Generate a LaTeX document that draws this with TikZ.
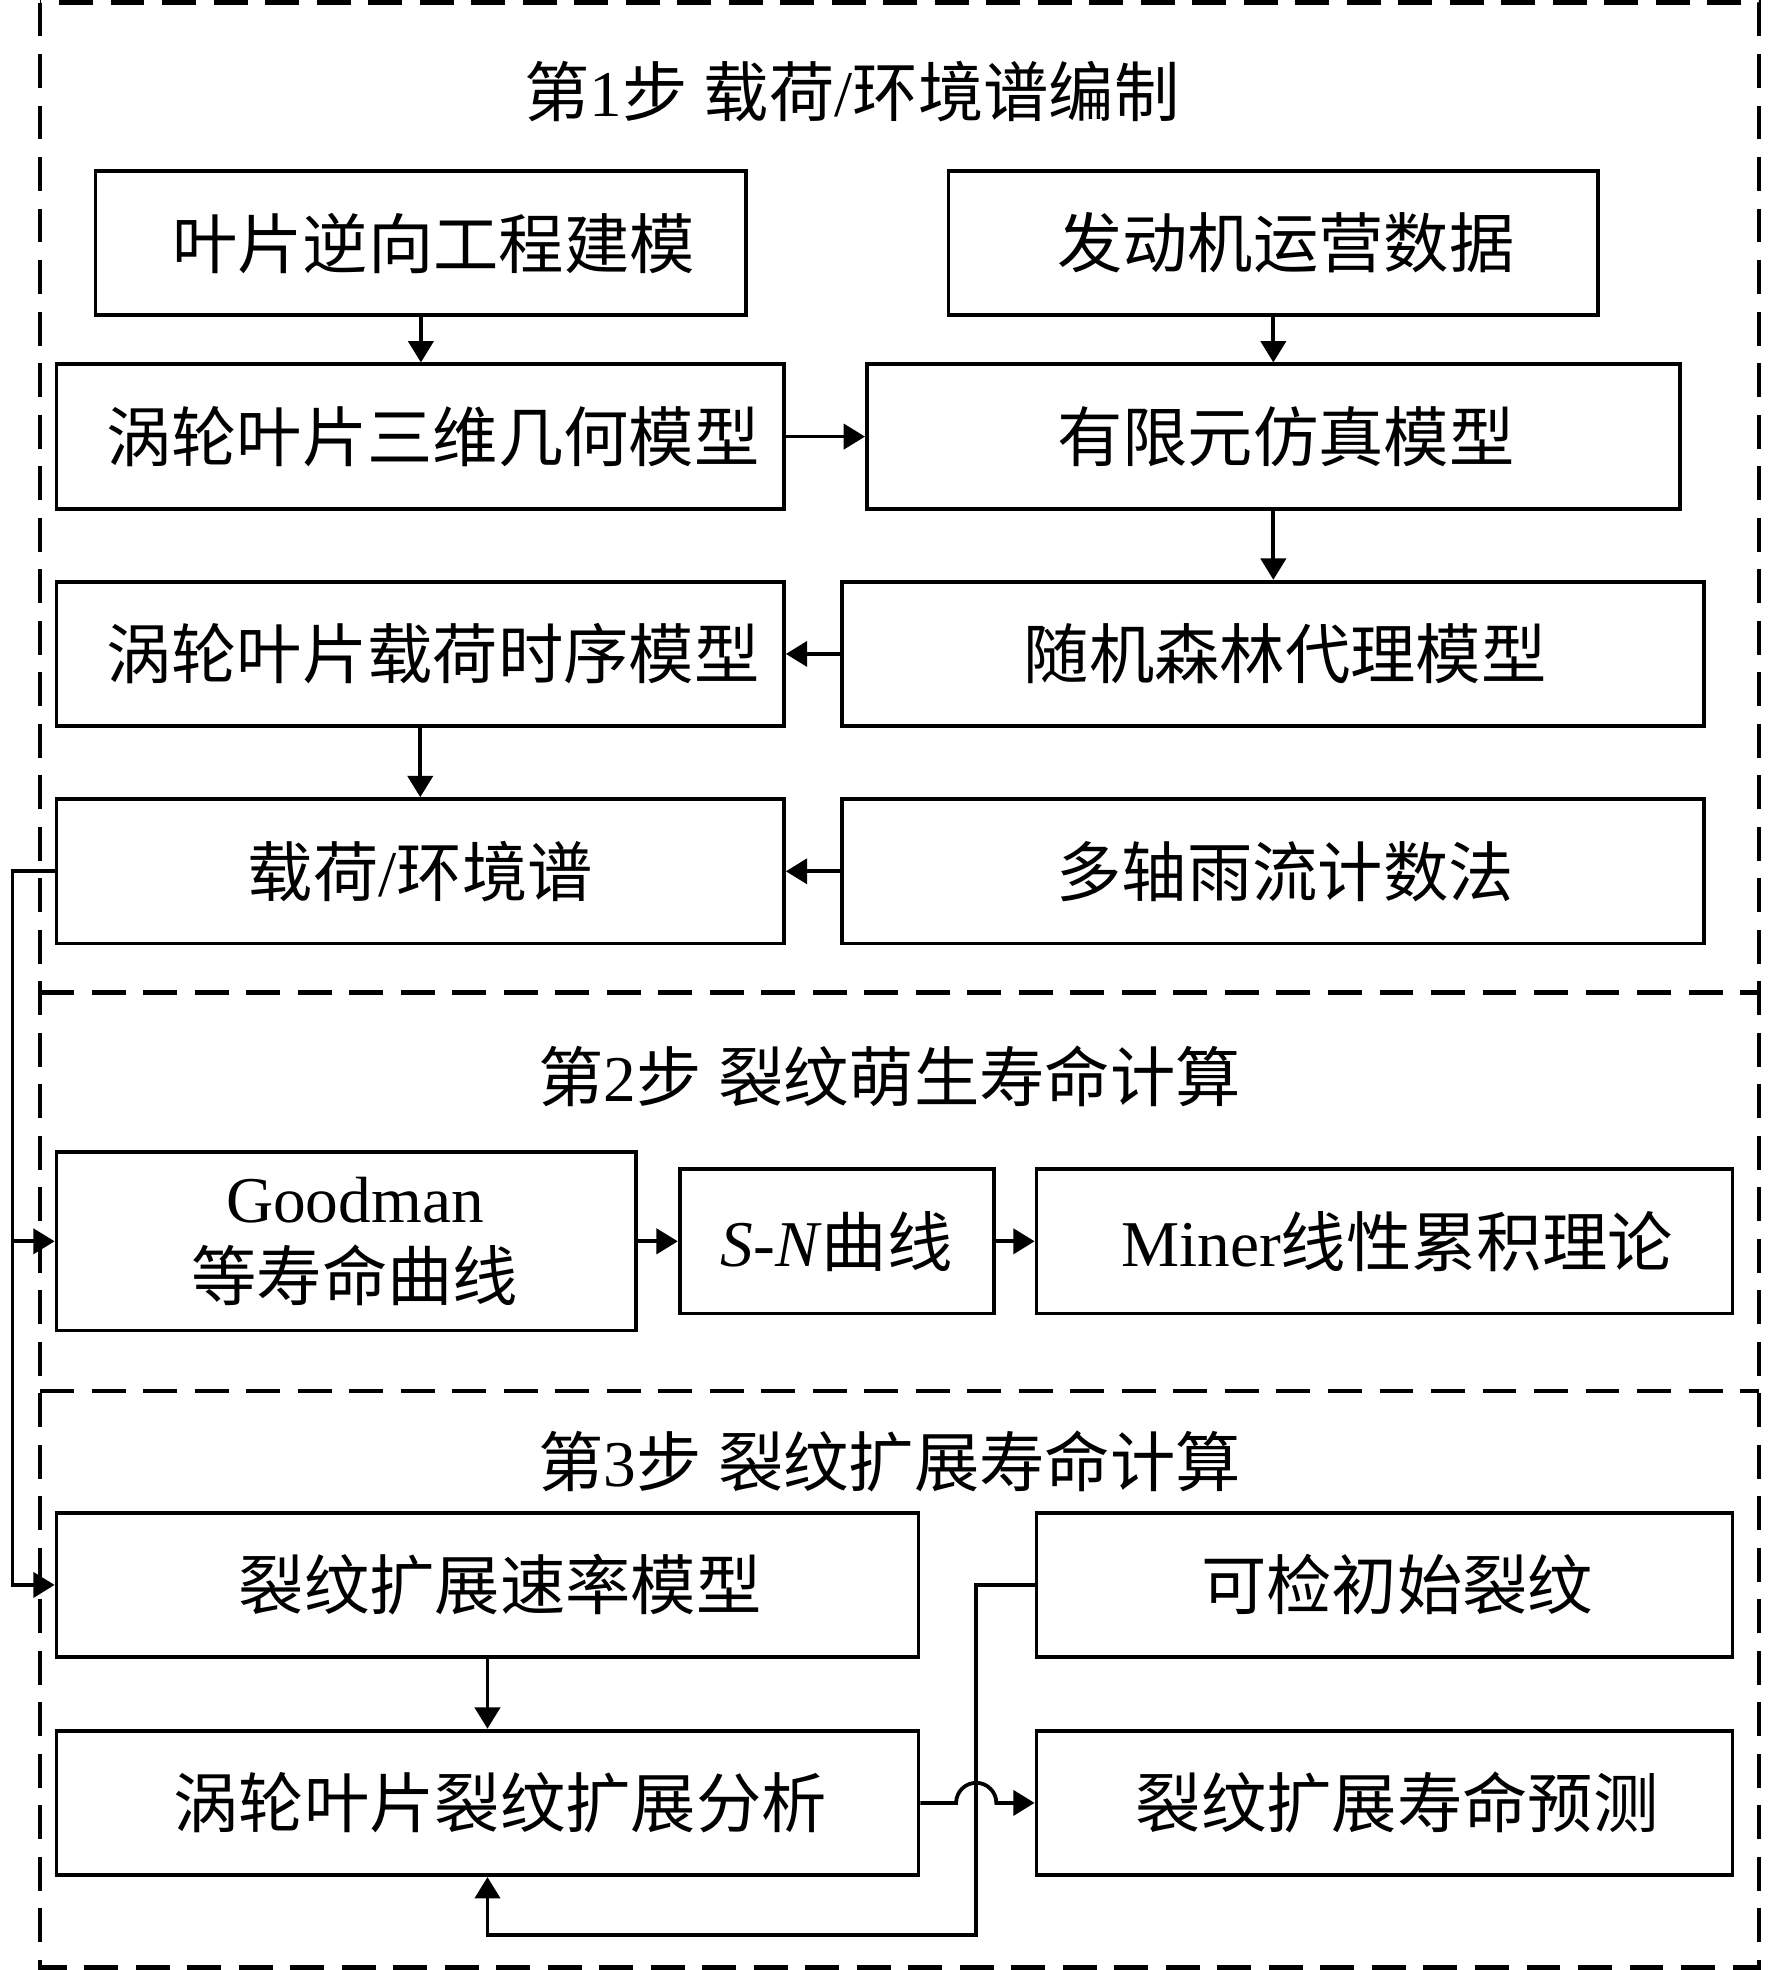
\documentclass[tikz,border=0pt]{standalone}
\usepackage{fontspec}
\setmainfont{Liberation Serif}
\newfontfamily\zh{Noto Sans CJK SC}
\usetikzlibrary{arrows.meta}
\tikzset{%
  plainbox/.style  = {shape=rectangle, draw, line width=1.5pt, inner sep=0pt,%
                      minimum height=57.5pt,%
                      font=\fontsize{26}{31}\selectfont},%
  block/.style     = {plainbox, execute at begin node=\hspace*{10pt}},%
  wide/.style      = {minimum width=289.5pt},%
  heading/.style   = {font=\fontsize{26}{31}\selectfont},%
  dashframe/.style = {line width=1.7pt, dash pattern=on 13.5pt off 7pt}%
}

\begin{document}
\begin{tikzpicture}[x=0.5pt,y=-0.5pt,
	arr/.style={line width=1.5pt,-{Triangle[length=8.5pt,width=10pt]}}]
	\useasboundingbox (0,0) rectangle (1410,1568);
	\draw [dashframe] (32,2) rectangle (1400,1566);
	\draw [dashframe] (32,790) -- (1400,790);
	\draw [dashframe] (32,1107) -- (1400,1107);
	\node [heading] (t1) at (678,73) {{\zh 第}1{\zh 步} {\zh 载荷}/{\zh 环境谱编制}};
	\node [heading] (t2) at (708,857) {{\zh 第}2{\zh 步} {\zh 裂纹萌生寿命计算}};
	\node [heading] (t3) at (708,1163) {{\zh 第}3{\zh 步} {\zh 裂纹扩展寿命计算}};
	\node [block, minimum width=259pt] (n1) at (335,193.5) {\zh 叶片逆向工程建模};
	\node [block, minimum width=258.5pt] (n2) at (1013.5,193.5) {\zh 发动机运营数据};
	\node [block, wide] (n3) at (334.5,347.5) {\zh 涡轮叶片三维几何模型};
	\node [block, minimum width=323.5pt] (n4) at (1013.5,347.5) {\zh 有限元仿真模型};
	\node [block, wide] (n5) at (334.5,520.5) {\zh 涡轮叶片载荷时序模型};
	\node [block, minimum width=343pt] (n6) at (1013,520.5) {\zh 随机森林代理模型};
	\node [plainbox, wide] (n7) at (334.5,693.5) {{\zh 载荷}/{\zh 环境谱}};
	\node [block, minimum width=343pt] (n8) at (1013,693.5) {\zh 多轴雨流计数法};
	\node [plainbox, align=center, minimum width=230.5pt, minimum height=71pt] (n9) at (275.5,988)
		{\hspace*{7pt}Goodman\\\hspace*{7pt}{\zh 等寿命曲线}};
	\node [plainbox, minimum width=125pt] (n10) at (666,988) {\textit{S-N}{\zh 曲线}};
	\node [block, minimum width=277pt] (n11) at (1102,988) {Miner{\zh 线性累积理论}};
	\node [block, minimum width=343pt] (n12) at (388,1261.5) {\zh 裂纹扩展速率模型};
	\node [block, minimum width=277pt] (n13) at (1102,1261.5) {\zh 可检初始裂纹};
	\node [block, minimum width=343pt] (n14) at (388,1435) {\zh 涡轮叶片裂纹扩展分析};
	\node [block, minimum width=277pt] (n15) at (1102,1435) {\zh 裂纹扩展寿命预测};
	\coordinate (bus) at (10,693.5);
	\coordinate (jog) at (777,1540);
	\coordinate (hop) at (n14.east -| jog);
	\draw [arr] (n1.south) -- (n1.south |- n3.north);
	\draw [arr] (n2.south) -- (n2.south |- n4.north);
	\draw [arr] (n3.east) -- (n4.west);
	\draw [arr] (n4.south) -- (n4.south |- n6.north);
	\draw [arr] (n6.west) -- (n5.east);
	\draw [arr] (n5.south) -- (n5.south |- n7.north);
	\draw [arr] (n8.west) -- (n7.east);
	\draw [arr] (n7.west) -- (bus) |- (n9.west);
	\draw [arr] (bus) |- (n12.west);
	\draw [arr] (n9.east) -- (n10.west);
	\draw [arr] (n10.east) -- (n11.west);
	\draw [arr] (n12.south) -- (n12.south |- n14.north);
	\draw [arr] (n13.west) -| (jog) -| (n14.south);
	\draw [arr] (n14.east) -- ([xshift=-8pt]hop) arc [start angle=180, end angle=0, radius=8pt] -- (n15.west);
\end{tikzpicture}
\end{document}
